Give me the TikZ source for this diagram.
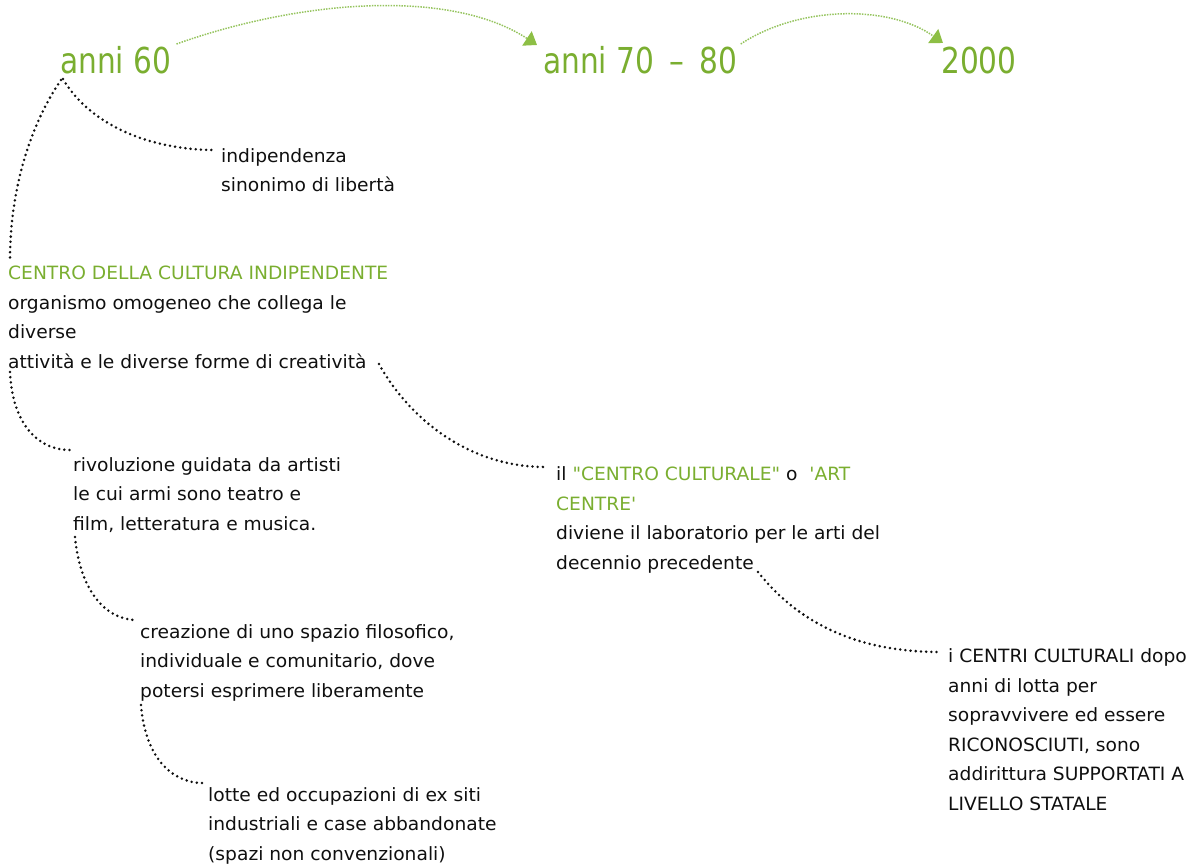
\documentclass[tikz,border=0pt]{standalone}
\usepackage{fontspec}
\setmainfont{DejaVu Sans}[FakeStretch=1.02, Ligatures=TeXOff]
\newfontfamily\titlefont{DejaVu Sans}[FakeStretch=0.83]
\usetikzlibrary{arrows.meta}
\definecolor{ctgreen}{RGB}{122,174,48}
\definecolor{arrgreen}{RGB}{141,191,69}
\definecolor{lgreen}{RGB}{150,196,95}
\definecolor{ink}{RGB}{15,15,15}
\begin{document}
\begin{tikzpicture}[x=1pt,y=-1pt,
  title/.style={anchor=base west, inner sep=0pt, text=ctgreen, font=\titlefont\fontsize{35.7}{40}\selectfont},
  txt/.style={anchor=base west, inner sep=0pt, align=left, text=ink, font=\fontsize{18.3}{29.5}\selectfont},
  dots/.style={draw=ink, line width=2.8pt, line cap=round, dash pattern=on 0pt off 5.2pt},
  garrow/.style={draw=lgreen, line width=1.5pt, dash pattern=on 1.5pt off 1.2pt,
    -{Triangle[length=12pt,width=17pt,fill=arrgreen,color=arrgreen]}}
]
\useasboundingbox (0,0) rectangle (1195,864);

% titles
\node[title] (t60) at (60,74) {anni 60};
\node[title] (t70) at (543,74) {anni 70 \,–\, 80};
\node[title] (t2000) at (941,74) {2000};

% text blocks (anchored at the baseline of their last line)
\node[txt] (b1) at (221,192) {indipendenza\\sinonimo di libertà};
\node[txt] (b2) at (8,368) {\textcolor{ctgreen}{CENTRO DELLA CULTURA INDIPENDENTE}\\organismo omogeneo che collega le\\diverse\\attività e le diverse forme di creatività};
\node[txt] (b3) at (73,530) {rivoluzione guidata da artisti\\le cui armi sono teatro e\\film, letteratura e musica.};
\node[txt] (b4) at (140,697) {creazione di uno spazio filosofico,\\individuale e comunitario, dove\\potersi esprimere liberamente};
\node[txt] (b5) at (208,860) {lotte ed occupazioni di ex siti\\industriali e case abbandonate\\(spazi non convenzionali)};
\node[txt] (b6) at (556,569) {il \textcolor{ctgreen}{"CENTRO CULTURALE"} o \ \textcolor{ctgreen}{'ART}\\\textcolor{ctgreen}{CENTRE'}\\diviene il laboratorio per le arti del\\decennio precedente};
\node[txt] (b7) at (948,810) {i CENTRI CULTURALI dopo\\anni di lotta per\\sopravvivere ed essere\\RICONOSCIUTI, sono\\addirittura SUPPORTATI A\\LIVELLO STATALE};

% timeline arrows
\draw[garrow] ([shift={(5,-30)}]t60.base east) .. controls (300,0) and (450,-12) .. ([shift={(-6,-29)}]t70.base west);
\draw[garrow] ([shift={(3,-30)}]t70.base east) .. controls (800,5) and (890,5) .. ([shift={(2,-31)}]t2000.base west);

% dotted connectors
\draw[dots] ([shift={(3,5)}]t60.base west) .. controls (90,125) and (150,150) .. ([shift={(-6,-42)}]b1.base west);
\draw[dots] ([shift={(1,6)}]t60.base west) .. controls (30,125) and (10,190) .. ([shift={(2,-108)}]b2.base west);
\draw[dots] ([shift={(371,-4)}]b2.base west) .. controls (410,420) and (470,467) .. ([shift={(-11,-102)}]b6.base west);
\draw[dots] ([shift={(2,4)}]b2.base west) .. controls (12,420) and (35,450) .. ([shift={(-3,-80)}]b3.base west);
\draw[dots] ([shift={(2,7)}]b3.base west) .. controls (80,590) and (105,620) .. ([shift={(-3,-77)}]b4.base west);
\draw[dots] ([shift={(1,8)}]b4.base west) .. controls (145,755) and (170,783) .. ([shift={(-5,-77)}]b5.base west);
\draw[dots] ([shift={(202,3)}]b6.base west) .. controls (800,625) and (860,652) .. ([shift={(-8,-158)}]b7.base west);
\end{tikzpicture}
\end{document}
